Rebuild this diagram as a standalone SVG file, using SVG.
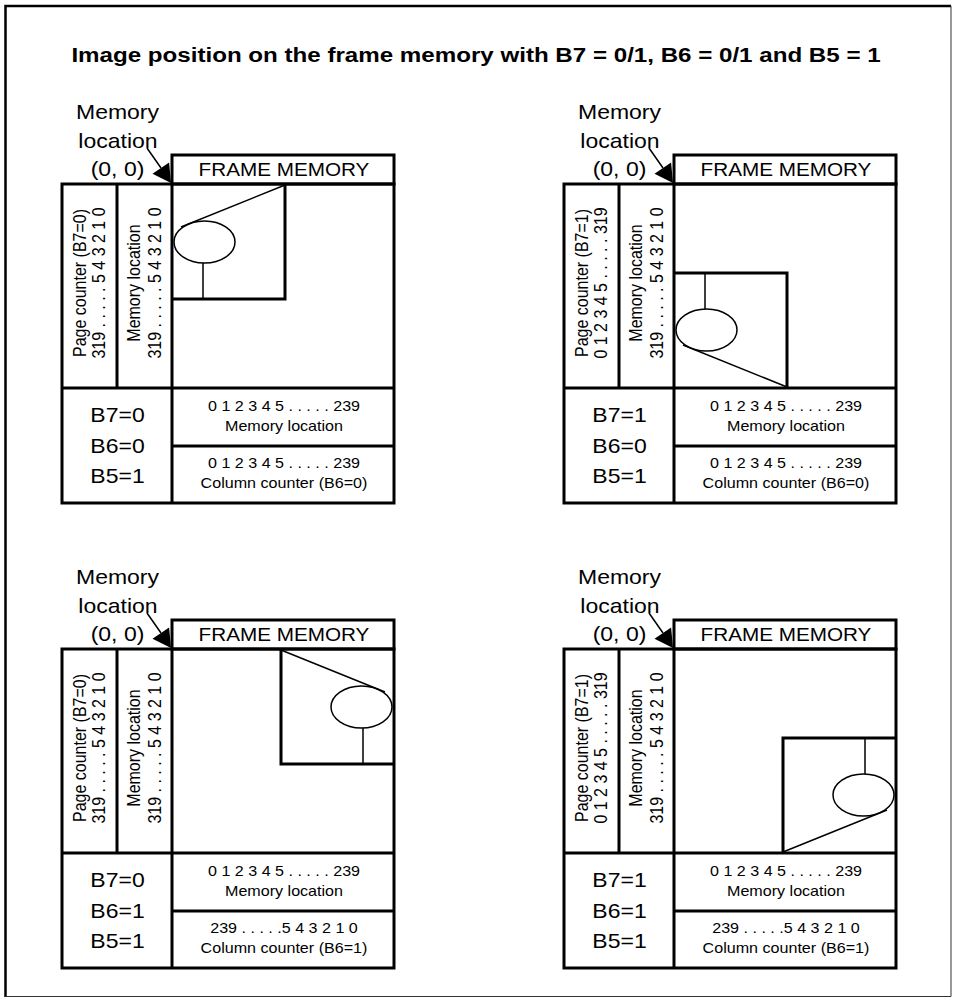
<svg xmlns="http://www.w3.org/2000/svg" width="953" height="998" viewBox="0 0 953 998">
<style>
  text { font-family: "Liberation Sans", Arial, sans-serif; fill: #000; text-anchor: middle; }
  .title { font-size: 21px; font-weight: bold; }
  .big { font-size: 20px; }
  .hdr { font-size: 18px; }
  .vt { font-size: 16px; }
  .sm { font-size: 14px; }
  .frame { fill: none; stroke: #000; stroke-width: 3; }
  .thin { fill: none; stroke: #000; stroke-width: 1.5; }
  .pointer { fill: none; stroke: #000; stroke-width: 1.5; }
  .head { fill: #000; stroke: none; }
</style>
<defs>
  <!-- image sketch placed at the (0,0) corner; mirrored copies reuse it -->
  <g id="picture">
    <path class="frame" d="M172,299 H285 V184"/>
    <path class="thin" d="M285,185 L181,227 M203,263 V299"/>
    <ellipse class="thin" cx="204.5" cy="242" rx="30.5" ry="21"/>
  </g>
</defs>

<rect x="0" y="0" width="953" height="998" fill="#fff"/>

<!-- page border -->
<path d="M5.5,997 V6 H951" fill="none" stroke="#000" stroke-width="2.5"/>
<path d="M951,6 V996.5 H5.5" fill="none" stroke="#333" stroke-width="1"/>

<text class="title" transform="translate(476,62) scale(1.15,1)">Image position on the frame memory with B7 = 0/1, B6 = 0/1 and B5 = 1</text>

<!-- B7=0, B6=0 -->
<g id="panel-b7-0-b6-0">
  <rect class="frame" x="172" y="155" width="222" height="29"/>
  <rect class="frame" x="62" y="184" width="332" height="319"/>
  <path class="frame" d="M117,184 V388 M172,184 V503 M62,388 H394 M172,446 H394"/>
  <use href="#picture"/>
  <text class="big" transform="translate(117.5,119) scale(1.15,1)">Memory</text>
  <text class="big" transform="translate(118,148) scale(1.15,1)">location</text>
  <text class="big" transform="translate(117.5,176) scale(1.15,1)">(0, 0)</text>
  <text class="hdr" transform="translate(284,176) scale(1.15,1)">FRAME MEMORY</text>
  <text class="vt" transform="translate(86,283) scale(1.15,1) rotate(-90)">Page counter (B7=0)</text>
  <text class="vt" transform="translate(105,283) scale(1.15,1) rotate(-90)">319 . . . . . 5 4 3 2 1 0</text>
  <text class="vt" transform="translate(139.5,283) scale(1.15,1) rotate(-90)">Memory location</text>
  <text class="vt" transform="translate(161,283) scale(1.15,1) rotate(-90)">319 . . . . . 5 4 3 2 1 0</text>
  <text class="big" transform="translate(117.5,421.5) scale(1.15,1)">B7=0</text>
  <text class="big" transform="translate(117.5,452.5) scale(1.15,1)">B6=0</text>
  <text class="big" transform="translate(117.5,483) scale(1.15,1)">B5=1</text>
  <text class="sm" transform="translate(284,411) scale(1.15,1)">0 1 2 3 4 5 . . . . . 239</text>
  <text class="sm" transform="translate(284,431) scale(1.15,1)">Memory location</text>
  <text class="sm" transform="translate(284,468) scale(1.15,1)">0 1 2 3 4 5 . . . . . 239</text>
  <text class="sm" transform="translate(284,488) scale(1.15,1)">Column counter (B6=0)</text>
</g>

<!-- B7=1, B6=0 -->
<g id="panel-b7-1-b6-0" transform="translate(502,0)">
  <rect class="frame" x="172" y="155" width="222" height="29"/>
  <rect class="frame" x="62" y="184" width="332" height="319"/>
  <path class="frame" d="M117,184 V388 M172,184 V503 M62,388 H394 M172,446 H394"/>
  <use href="#picture" transform="matrix(1,0,0,-1,0,572)"/>
  <text class="big" transform="translate(117.5,119) scale(1.15,1)">Memory</text>
  <text class="big" transform="translate(118,148) scale(1.15,1)">location</text>
  <text class="big" transform="translate(117.5,176) scale(1.15,1)">(0, 0)</text>
  <text class="hdr" transform="translate(284,176) scale(1.15,1)">FRAME MEMORY</text>
  <text class="vt" transform="translate(86,283) scale(1.15,1) rotate(-90)">Page counter (B7=1)</text>
  <text class="vt" transform="translate(105,283) scale(1.15,1) rotate(-90)">0 1 2 3 4 5 . . . . . 319</text>
  <text class="vt" transform="translate(139.5,283) scale(1.15,1) rotate(-90)">Memory location</text>
  <text class="vt" transform="translate(161,283) scale(1.15,1) rotate(-90)">319 . . . . . 5 4 3 2 1 0</text>
  <text class="big" transform="translate(117.5,421.5) scale(1.15,1)">B7=1</text>
  <text class="big" transform="translate(117.5,452.5) scale(1.15,1)">B6=0</text>
  <text class="big" transform="translate(117.5,483) scale(1.15,1)">B5=1</text>
  <text class="sm" transform="translate(284,411) scale(1.15,1)">0 1 2 3 4 5 . . . . . 239</text>
  <text class="sm" transform="translate(284,431) scale(1.15,1)">Memory location</text>
  <text class="sm" transform="translate(284,468) scale(1.15,1)">0 1 2 3 4 5 . . . . . 239</text>
  <text class="sm" transform="translate(284,488) scale(1.15,1)">Column counter (B6=0)</text>
</g>

<!-- B7=0, B6=1 -->
<g id="panel-b7-0-b6-1" transform="translate(0,465)">
  <rect class="frame" x="172" y="155" width="222" height="29"/>
  <rect class="frame" x="62" y="184" width="332" height="319"/>
  <path class="frame" d="M117,184 V388 M172,184 V503 M62,388 H394 M172,446 H394"/>
  <use href="#picture" transform="matrix(-1,0,0,1,566,0)"/>
  <text class="big" transform="translate(117.5,119) scale(1.15,1)">Memory</text>
  <text class="big" transform="translate(118,148) scale(1.15,1)">location</text>
  <text class="big" transform="translate(117.5,176) scale(1.15,1)">(0, 0)</text>
  <text class="hdr" transform="translate(284,176) scale(1.15,1)">FRAME MEMORY</text>
  <text class="vt" transform="translate(86,283) scale(1.15,1) rotate(-90)">Page counter (B7=0)</text>
  <text class="vt" transform="translate(105,283) scale(1.15,1) rotate(-90)">319 . . . . . 5 4 3 2 1 0</text>
  <text class="vt" transform="translate(139.5,283) scale(1.15,1) rotate(-90)">Memory location</text>
  <text class="vt" transform="translate(161,283) scale(1.15,1) rotate(-90)">319 . . . . . 5 4 3 2 1 0</text>
  <text class="big" transform="translate(117.5,421.5) scale(1.15,1)">B7=0</text>
  <text class="big" transform="translate(117.5,452.5) scale(1.15,1)">B6=1</text>
  <text class="big" transform="translate(117.5,483) scale(1.15,1)">B5=1</text>
  <text class="sm" transform="translate(284,411) scale(1.15,1)">0 1 2 3 4 5 . . . . . 239</text>
  <text class="sm" transform="translate(284,431) scale(1.15,1)">Memory location</text>
  <text class="sm" transform="translate(284,468) scale(1.15,1)">239 . . . . .5 4 3 2 1 0</text>
  <text class="sm" transform="translate(284,488) scale(1.15,1)">Column counter (B6=1)</text>
</g>

<!-- B7=1, B6=1 -->
<g id="panel-b7-1-b6-1" transform="translate(502,465)">
  <rect class="frame" x="172" y="155" width="222" height="29"/>
  <rect class="frame" x="62" y="184" width="332" height="319"/>
  <path class="frame" d="M117,184 V388 M172,184 V503 M62,388 H394 M172,446 H394"/>
  <use href="#picture" transform="matrix(-1,0,0,-1,566,572)"/>
  <text class="big" transform="translate(117.5,119) scale(1.15,1)">Memory</text>
  <text class="big" transform="translate(118,148) scale(1.15,1)">location</text>
  <text class="big" transform="translate(117.5,176) scale(1.15,1)">(0, 0)</text>
  <text class="hdr" transform="translate(284,176) scale(1.15,1)">FRAME MEMORY</text>
  <text class="vt" transform="translate(86,283) scale(1.15,1) rotate(-90)">Page counter (B7=1)</text>
  <text class="vt" transform="translate(105,283) scale(1.15,1) rotate(-90)">0 1 2 3 4 5 . . . . . 319</text>
  <text class="vt" transform="translate(139.5,283) scale(1.15,1) rotate(-90)">Memory location</text>
  <text class="vt" transform="translate(161,283) scale(1.15,1) rotate(-90)">319 . . . . . 5 4 3 2 1 0</text>
  <text class="big" transform="translate(117.5,421.5) scale(1.15,1)">B7=1</text>
  <text class="big" transform="translate(117.5,452.5) scale(1.15,1)">B6=1</text>
  <text class="big" transform="translate(117.5,483) scale(1.15,1)">B5=1</text>
  <text class="sm" transform="translate(284,411) scale(1.15,1)">0 1 2 3 4 5 . . . . . 239</text>
  <text class="sm" transform="translate(284,431) scale(1.15,1)">Memory location</text>
  <text class="sm" transform="translate(284,468) scale(1.15,1)">239 . . . . .5 4 3 2 1 0</text>
  <text class="sm" transform="translate(284,488) scale(1.15,1)">Column counter (B6=1)</text>
</g>

<!-- pointers from "(0, 0)" to the frame memory origin -->
<g id="connectors">
  <path class="pointer" d="M147,148 L161,168 M649,148 L663,168 M147,613 L161,633 M649,613 L663,633"/>
  <polygon class="head" points="171,183 152.5,173.8 169.1,162.4"/>
  <polygon class="head" points="673,183 654.5,173.8 671.1,162.4"/>
  <polygon class="head" points="171,648 152.5,638.8 169.1,627.4"/>
  <polygon class="head" points="673,648 654.5,638.8 671.1,627.4"/>
</g>
</svg>
